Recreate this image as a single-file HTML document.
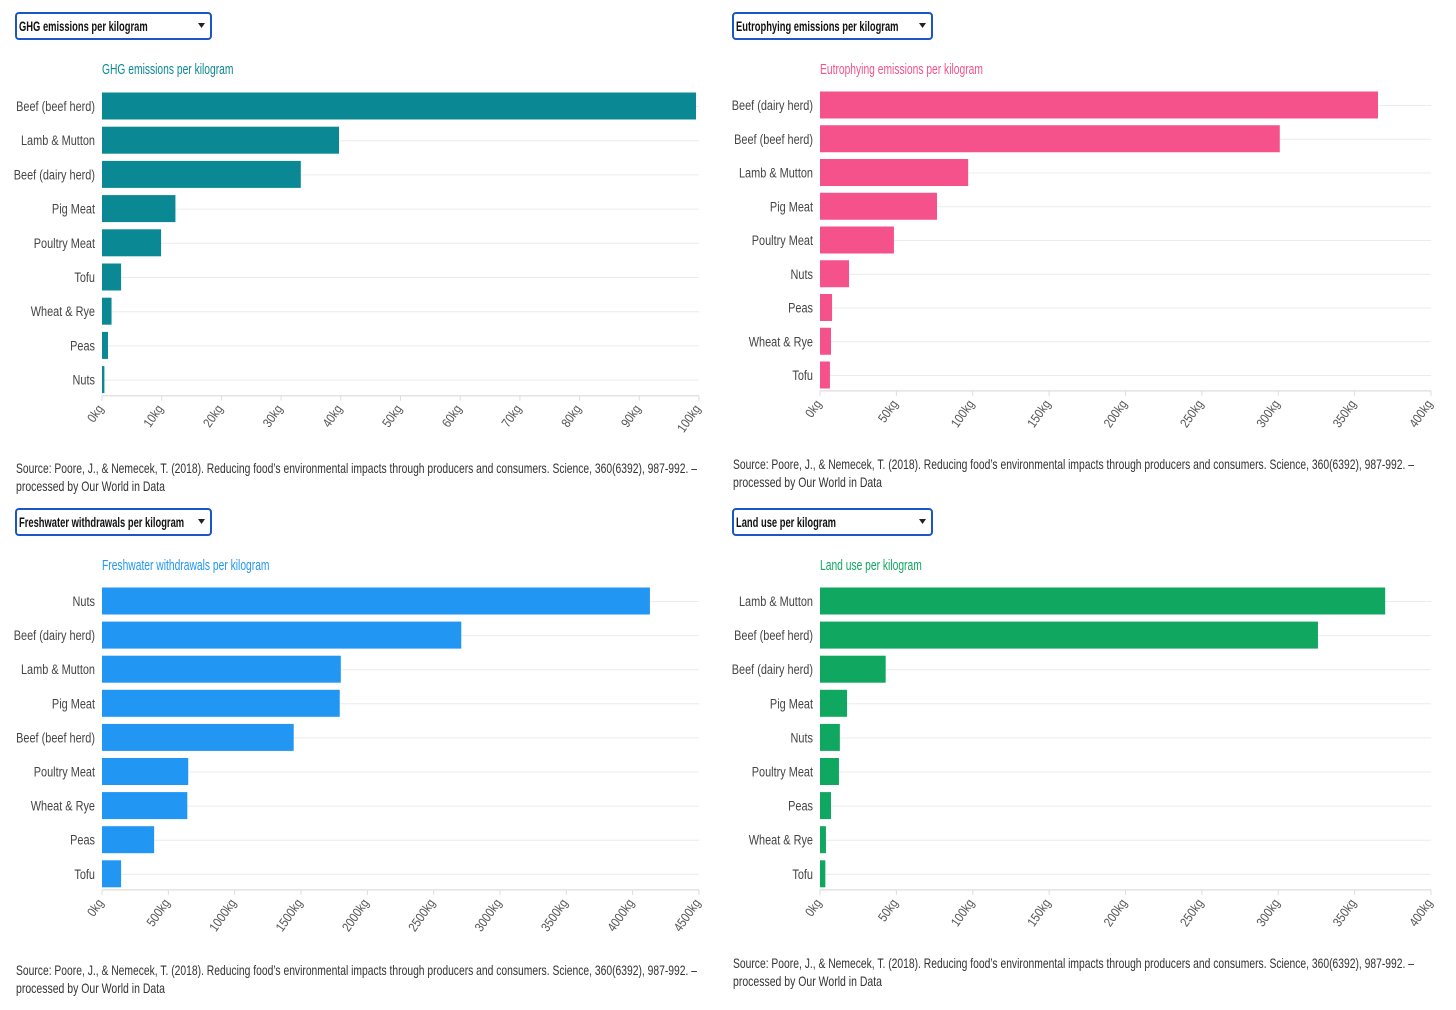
<!DOCTYPE html>
<html><head><meta charset="utf-8"><style>
body{margin:0;background:#fff;width:1456px;height:1005px;overflow:hidden;font-family:"Liberation Sans",sans-serif;}
svg text{font-family:"Liberation Sans",sans-serif;}
</style></head><body>
<svg id="svg" width="1456" height="1005" xmlns="http://www.w3.org/2000/svg"></svg>
<script>
const ghgCats=["Beef (beef herd)","Lamb & Mutton","Beef (dairy herd)","Pig Meat","Poultry Meat","Tofu","Wheat & Rye","Peas","Nuts"];
const ghgVals=[99.5,39.7,33.3,12.3,9.9,3.2,1.6,1.0,0.4];
const ghgTicks=[0,10,20,30,40,50,60,70,80,90,100];
const eutCats=["Beef (dairy herd)","Beef (beef herd)","Lamb & Mutton","Pig Meat","Poultry Meat","Nuts","Peas","Wheat & Rye","Tofu"];
const eutVals=[365.3,301,97,76.6,48.4,19,7.9,7.2,6.5];
const eutTicks=[0,50,100,150,200,250,300,350,400];
const waterCats=["Nuts","Beef (dairy herd)","Lamb & Mutton","Pig Meat","Beef (beef herd)","Poultry Meat","Wheat & Rye","Peas","Tofu"];
const waterVals=[4130,2708,1800,1792,1445,650,643,393,144];
const waterTicks=[0,500,1000,1500,2000,2500,3000,3500,4000,4500];
const landCats=["Lamb & Mutton","Beef (beef herd)","Beef (dairy herd)","Pig Meat","Nuts","Poultry Meat","Peas","Wheat & Rye","Tofu"];
const landVals=[370,326,43,17.7,13,12.4,7.2,3.9,3.5];
const landTicks=[0,50,100,150,200,250,300,350,400];

const NS="http://www.w3.org/2000/svg";
const svg=document.getElementById('svg');
function el(t,a,p){const e=document.createElementNS(NS,t);for(const k in a)e.setAttribute(k,a[k]);(p||svg).appendChild(e);return e;}
function ctxt(s,x,y,o,p){
  const tr=`translate(${x} ${y})`+(o.rot?` rotate(${o.rot})`:'')+` scale(${o.sx||0.78} 1)`;
  const e=el('text',{x:0,y:0,transform:tr,'font-size':o.size||14,fill:o.fill||'#444','text-anchor':o.anchor||'start','font-weight':o.bold?'bold':'normal'},p);
  e.textContent=s;return e;
}
const SRC1="Source: Poore, J., & Nemecek, T. (2018). Reducing food’s environmental impacts through producers and consumers. Science, 360(6392), 987-992. –";
const SRC2="processed by Our World in Data";

function panel(o){
  const g=el('g',{});
  
  
  const dd=el('g',{},g);
  
  
  el('rect',{x:o.ddx,y:o.top,width:o.ddw,height:26,rx:3,fill:'#fff',stroke:'#1a56c4','stroke-width':2},dd);
  ctxt(o.label,o.ddx+3,o.top+18,{size:14,fill:'#111',sx:0.67,bold:true},dd);
  el('path',{d:`M${o.ddx+o.ddw-13} ${o.top+10}l7 0l-3.5 5z`,fill:'#222'},dd);
  const t=ctxt(o.label,o.x0,o.top+61,{size:14.5,fill:o.color,sx:0.71},g);
  
  
  const max=o.ticks[o.ticks.length-1];
  const sx=v=>o.x0+(o.x1-o.x0)*v/max;
  const rowY=i=>o.row0+i*o.pitch;
  const axisY=rowY(o.cats.length-1)+o.pitch*0.5-1;
  o.cats.forEach((c,i)=>{
    const y=rowY(i);
    el('line',{x1:o.x0,x2:o.x1,y1:y+0.5,y2:y+0.5,stroke:'#ececec','stroke-width':1},g);
  });
  el('line',{x1:o.x0,x2:o.x1,y1:axisY,y2:axisY,stroke:'#e3e3e3','stroke-width':1.5},g);
  o.ticks.forEach(v=>{
    const x=sx(v);
    el('line',{x1:x,x2:x,y1:axisY,y2:axisY+5,stroke:'#ddd'},g);
    const tl=ctxt(v+'kg',x+2,axisY+13,{size:13,fill:'#555',anchor:'end',rot:-55,sx:0.85},g);
    
    
  });
  o.cats.forEach((c,i)=>{
    const y=rowY(i);
    const b=el('rect',{x:o.x0,y:y-13.5,width:Math.max(1,sx(o.vals[i])-o.x0),height:27,fill:o.color},g);
    
    
    const l=ctxt(c,o.x0-7,y+5,{size:14,fill:'#444',anchor:'end'},g);
    
    
  });
  const s1=el('text',{x:o.ddx,y:o.src,'font-size':14,fill:'#333',textLength:681,lengthAdjust:'spacingAndGlyphs'},g);
  s1.textContent=SRC1;
  
  
  const s2=el('text',{x:o.ddx,y:o.src+18,'font-size':14,fill:'#333',textLength:149,lengthAdjust:'spacingAndGlyphs'},g);
  s2.textContent=SRC2;
}
panel({key:'ghg',label:'GHG emissions per kilogram',color:'#0a8894',ddx:16,ddw:195,top:13,x0:102,x1:699,row0:106,pitch:34.2,cats:ghgCats,vals:ghgVals,ticks:ghgTicks,src:473});
panel({key:'eutrophying',label:'Eutrophying emissions per kilogram',color:'#f5518a',ddx:733,ddw:199,top:13,x0:820,x1:1431,row0:105,pitch:33.75,cats:eutCats,vals:eutVals,ticks:eutTicks,src:469});
panel({key:'freshwater',label:'Freshwater withdrawals per kilogram',color:'#2196f3',ddx:16,ddw:195,top:509,x0:102,x1:699,row0:601,pitch:34.1,cats:waterCats,vals:waterVals,ticks:waterTicks,src:975});
panel({key:'land-use',label:'Land use per kilogram',color:'#10a760',ddx:733,ddw:199,top:509,x0:820,x1:1431,row0:601,pitch:34.1,cats:landCats,vals:landVals,ticks:landTicks,src:968});
</script>
</body></html>
